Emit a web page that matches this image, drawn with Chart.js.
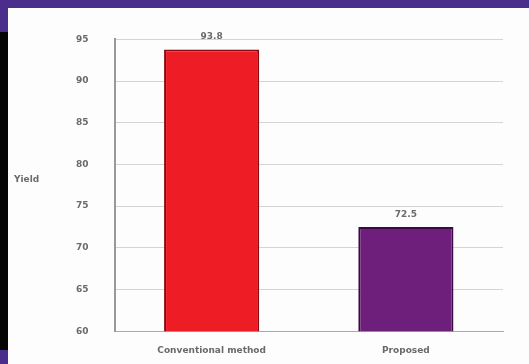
<!DOCTYPE html>
<html>
<head>
<meta charset="utf-8">
<script src="https://cdn.jsdelivr.net/npm/chart.js@4.4.0/dist/chart.umd.min.js"></script>
<style>
  html, body { margin: 0; padding: 0; background: #fff; }
  #wrap { position: relative; width: 529px; height: 364px; overflow: hidden; background: #fdfdfd; }
  #topband { position: absolute; left: 0; top: 0; width: 529px; height: 8px; background: #4b2d8c; }
  #leftband { position: absolute; left: 0; top: 0; width: 8px; height: 364px; background: #4b2d8c; }
  #leftblack { position: absolute; left: 0; top: 32px; width: 8px; height: 318px; background: #050505; }
  #box { position: absolute; left: 8px; top: 8px; width: 521px; height: 356px; }
</style>
</head>
<body>
<div id="wrap">
  <div id="topband"></div>
  <div id="leftband"></div>
  <div id="leftblack"></div>
  <div id="box"><canvas id="myChart"></canvas></div>
</div>
<script>
// data
const categories = ["Conventional method", "Proposed"];
const values = [93.8, 72.5];
const valueLabels = ["93.8", "72.5"];
const barColors = ["#ee1c25", "#6e1f7c"];
const barEdges = ["#8a0a10", "#3a0a45"];
const yTicks = [60, 65, 70, 75, 80, 85, 90, 95];
const yTitle = "Yield";

const fnt = { size: 9, family: 'DejaVu Sans', weight: 'bold' };

// labels over the bars + horizontal y title
const extras = {
  id: 'extras',
  afterDatasetsDraw(chart) {
    const c = chart.ctx;
    const meta = chart.getDatasetMeta(0);
    c.save();
    c.font = 'bold 9px "DejaVu Sans"';
    c.fillStyle = '#6a6a6a';
    c.textAlign = 'center';
    c.textBaseline = 'bottom';
    meta.data.forEach((bar, i) => {
      c.fillText(valueLabels[i], bar.x, bar.y - 8);
    });
    const a = chart.chartArea;
    c.textAlign = 'left';
    c.textBaseline = 'middle';
    c.fillText(yTitle, 6, (a.top + a.bottom) / 2 - 6);
    c.restore();
  }
};

var ctx = document.getElementById('myChart').getContext('2d');
var myChart = new Chart(ctx, {
  type: 'bar',
  data: {
    labels: categories,
    datasets: [{
      data: values,
      backgroundColor: barColors,
      borderColor: barEdges,
      borderWidth: 2,
      barPercentage: 1,
      categoryPercentage: 0.49
    }]
  },
  options: {
    responsive: true,
    maintainAspectRatio: false,
    animation: false,
    layout: { padding: { top: 27, right: 26, bottom: 2, left: 42 } },
    plugins: {
      legend: { display: false },
      tooltip: { enabled: false }
    },
    scales: {
      x: {
        grid: { display: false },
        border: { color: '#aaa' },
        ticks: { color: '#6a6a6a', font: fnt, padding: 6 }
      },
      y: {
        min: 60,
        max: 95,
        afterBuildTicks(scale) {
          scale.ticks = yTicks.map(v => ({ value: v }));
        },
        grid: { color: '#d4d4d4', tickLength: 0 },
        border: { color: '#999', width: 2 },
        ticks: { color: '#6a6a6a', font: fnt, padding: 26 }
      }
    }
  },
  plugins: [extras]
});
</script>
</body>
</html>
